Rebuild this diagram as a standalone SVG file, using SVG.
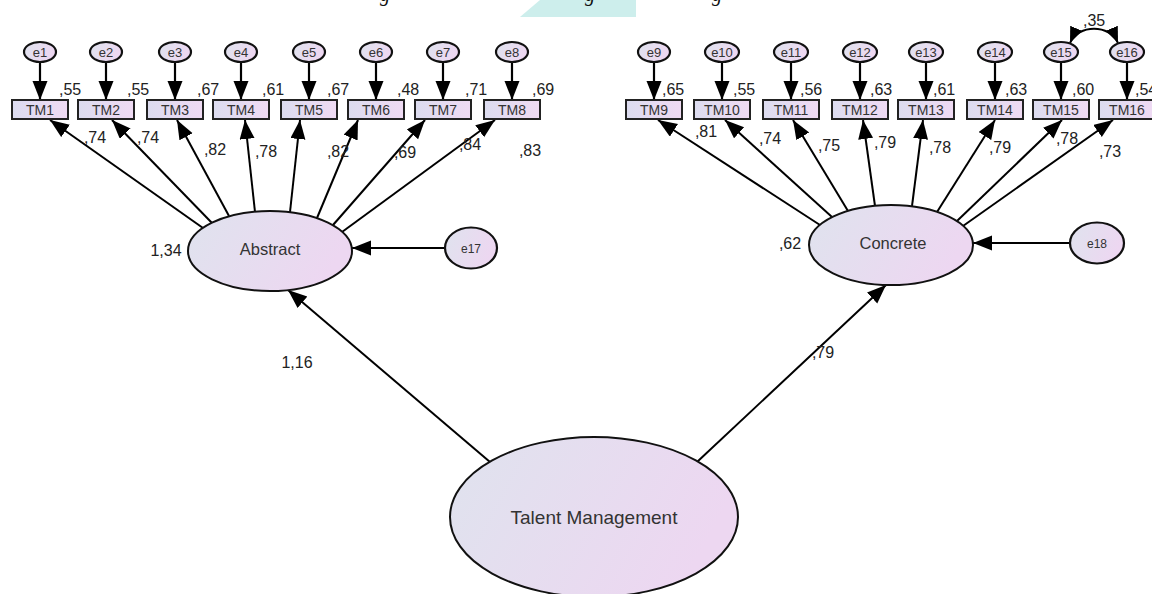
<svg xmlns="http://www.w3.org/2000/svg" width="1152" height="594" viewBox="0 0 1152 594">
  <defs>
    <linearGradient id="fillLatent" x1="0" y1="0" x2="1" y2="0.3">
      <stop offset="0" stop-color="#dfe3ee"/>
      <stop offset="1" stop-color="#edd7f1"/>
    </linearGradient>
    <linearGradient id="fillBox" x1="0" y1="0" x2="1" y2="0">
      <stop offset="0" stop-color="#dcdcef"/>
      <stop offset="1" stop-color="#efdaf3"/>
    </linearGradient>
    <marker id="head" markerUnits="userSpaceOnUse" markerWidth="20" markerHeight="16" refX="19" refY="7.5" orient="auto">
      <path d="M0,0 L19,7.5 L0,15 z" fill="#000"/>
    </marker>
    <marker id="headArc" markerUnits="userSpaceOnUse" markerWidth="18" markerHeight="14" refX="16" refY="6.5" orient="auto-start-reverse">
      <path d="M0,0 L16,6.5 L0,13 z" fill="#000"/>
    </marker>
  </defs>
  <style>
    .lat { fill: url(#fillLatent); stroke: #111; stroke-width: 2; }
    .err { fill: url(#fillLatent); stroke: #111; stroke-width: 2.2; }
    .obs { fill: url(#fillBox); stroke: #222; stroke-width: 2; }
    .lbl { font-family: "Liberation Sans", Arial, sans-serif; fill: #333; text-anchor: middle; }
    .elbl { font-size: 13px; }
    .olbl { font-size: 14px; }
    .num { font-family: "Liberation Sans", Arial, sans-serif; font-size: 16px; fill: #222; }
    .mid { text-anchor: middle; }
    .errpath { fill: none; stroke: #000; stroke-width: 2.2; marker-end: url(#head); }
    .load { fill: none; stroke: #000; stroke-width: 2; marker-end: url(#head); }
  </style>

  <rect width="1152" height="594" fill="#fff"/>

  <!-- page decoration and caption remnant along the top edge -->
  <g id="page-top">
    <polygon points="540,0 636,0 636,17 520,17" fill="#cdeeec"/>
    <g font-family="'Liberation Serif', 'Times New Roman', serif" font-style="italic" font-size="20" fill="#111">
      <text x="380" y="1">g</text>
      <text x="585" y="1">g</text>
      <text x="712" y="1">g</text>
    </g>
  </g>

  <!-- connectors -->
  <g id="connectors">
    <!-- error terms to indicators -->
    <line class="errpath" x1="40" y1="62" x2="40" y2="100"/>
    <line class="errpath" x1="106" y1="62" x2="106" y2="100"/>
    <line class="errpath" x1="175" y1="62" x2="175" y2="100"/>
    <line class="errpath" x1="241" y1="62" x2="241" y2="100"/>
    <line class="errpath" x1="309" y1="62" x2="309" y2="100"/>
    <line class="errpath" x1="376" y1="62" x2="376" y2="100"/>
    <line class="errpath" x1="443" y1="62" x2="443" y2="100"/>
    <line class="errpath" x1="512" y1="62" x2="512" y2="100"/>
    <line class="errpath" x1="654" y1="62" x2="654" y2="100"/>
    <line class="errpath" x1="722" y1="62" x2="722" y2="100"/>
    <line class="errpath" x1="791" y1="62" x2="791" y2="100"/>
    <line class="errpath" x1="860" y1="62" x2="860" y2="100"/>
    <line class="errpath" x1="926" y1="62" x2="926" y2="100"/>
    <line class="errpath" x1="995" y1="62" x2="995" y2="100"/>
    <line class="errpath" x1="1061" y1="62" x2="1061" y2="100"/>
    <line class="errpath" x1="1127" y1="62" x2="1127" y2="100"/>

    <!-- covariance e15 <-> e16 -->
    <path d="M1070,43 C1078,24 1110,24 1118,43" fill="none" stroke="#000" stroke-width="2" marker-start="url(#headArc)" marker-end="url(#headArc)"/>

    <!-- Abstract loadings -->
    <line class="load" x1="203" y1="228" x2="50" y2="120"/>
    <line class="load" x1="212" y1="223" x2="112" y2="120"/>
    <line class="load" x1="229" y1="216" x2="177" y2="120"/>
    <line class="load" x1="255" y1="212" x2="245" y2="120"/>
    <line class="load" x1="290" y1="212" x2="300" y2="120"/>
    <line class="load" x1="317" y1="218" x2="358" y2="120"/>
    <line class="load" x1="333" y1="225" x2="425" y2="120"/>
    <line class="load" x1="342" y1="232" x2="495" y2="120"/>

    <!-- Concrete loadings -->
    <line class="load" x1="820" y1="225" x2="658" y2="120"/>
    <line class="load" x1="832" y1="217" x2="725" y2="120"/>
    <line class="load" x1="848" y1="211" x2="793" y2="120"/>
    <line class="load" x1="875" y1="206" x2="863" y2="120"/>
    <line class="load" x1="912" y1="206" x2="923" y2="120"/>
    <line class="load" x1="937" y1="212" x2="995" y2="120"/>
    <line class="load" x1="957" y1="221" x2="1062" y2="120"/>
    <line class="load" x1="963" y1="226" x2="1113" y2="120"/>

    <!-- disturbances -->
    <line class="load" x1="445" y1="248" x2="352" y2="248"/>
    <line class="load" x1="1070" y1="243" x2="973" y2="243"/>

    <!-- second-order paths -->
    <line class="load" x1="490" y1="462" x2="288" y2="290"/>
    <line class="load" x1="697" y1="462" x2="886" y2="285"/>
  </g>

  <!-- error terms -->
  <g id="e1"><ellipse class="err" cx="40" cy="52" rx="16" ry="10"/><text class="lbl elbl" x="40" y="56.5">e1</text></g>
  <g id="e2"><ellipse class="err" cx="106" cy="52" rx="16" ry="10"/><text class="lbl elbl" x="106" y="56.5">e2</text></g>
  <g id="e3"><ellipse class="err" cx="175" cy="52" rx="16" ry="10"/><text class="lbl elbl" x="175" y="56.5">e3</text></g>
  <g id="e4"><ellipse class="err" cx="241" cy="52" rx="16" ry="10"/><text class="lbl elbl" x="241" y="56.5">e4</text></g>
  <g id="e5"><ellipse class="err" cx="309" cy="52" rx="16" ry="10"/><text class="lbl elbl" x="309" y="56.5">e5</text></g>
  <g id="e6"><ellipse class="err" cx="376" cy="52" rx="16" ry="10"/><text class="lbl elbl" x="376" y="56.5">e6</text></g>
  <g id="e7"><ellipse class="err" cx="443" cy="52" rx="16" ry="10"/><text class="lbl elbl" x="443" y="56.5">e7</text></g>
  <g id="e8"><ellipse class="err" cx="512" cy="52" rx="16" ry="10"/><text class="lbl elbl" x="512" y="56.5">e8</text></g>
  <g id="e9"><ellipse class="err" cx="654" cy="52" rx="16" ry="10"/><text class="lbl elbl" x="654" y="56.5">e9</text></g>
  <g id="e10"><ellipse class="err" cx="722" cy="52" rx="17" ry="10"/><text class="lbl elbl" x="722" y="56.5">e10</text></g>
  <g id="e11"><ellipse class="err" cx="791" cy="52" rx="17" ry="10"/><text class="lbl elbl" x="791" y="56.5">e11</text></g>
  <g id="e12"><ellipse class="err" cx="860" cy="52" rx="17" ry="10"/><text class="lbl elbl" x="860" y="56.5">e12</text></g>
  <g id="e13"><ellipse class="err" cx="926" cy="52" rx="17" ry="10"/><text class="lbl elbl" x="926" y="56.5">e13</text></g>
  <g id="e14"><ellipse class="err" cx="995" cy="52" rx="17" ry="10"/><text class="lbl elbl" x="995" y="56.5">e14</text></g>
  <g id="e15"><ellipse class="err" cx="1061" cy="52" rx="17" ry="10"/><text class="lbl elbl" x="1061" y="56.5">e15</text></g>
  <g id="e16"><ellipse class="err" cx="1127" cy="52" rx="17" ry="10"/><text class="lbl elbl" x="1127" y="56.5">e16</text></g>

  <!-- indicators -->
  <g id="TM1"><rect class="obs" x="12" y="100" width="56" height="19"/><text class="lbl olbl" x="40" y="115">TM1</text></g>
  <g id="TM2"><rect class="obs" x="78" y="100" width="56" height="19"/><text class="lbl olbl" x="106" y="115">TM2</text></g>
  <g id="TM3"><rect class="obs" x="147" y="100" width="56" height="19"/><text class="lbl olbl" x="175" y="115">TM3</text></g>
  <g id="TM4"><rect class="obs" x="213" y="100" width="56" height="19"/><text class="lbl olbl" x="241" y="115">TM4</text></g>
  <g id="TM5"><rect class="obs" x="281" y="100" width="56" height="19"/><text class="lbl olbl" x="309" y="115">TM5</text></g>
  <g id="TM6"><rect class="obs" x="348" y="100" width="56" height="19"/><text class="lbl olbl" x="376" y="115">TM6</text></g>
  <g id="TM7"><rect class="obs" x="415" y="100" width="56" height="19"/><text class="lbl olbl" x="443" y="115">TM7</text></g>
  <g id="TM8"><rect class="obs" x="484" y="100" width="56" height="19"/><text class="lbl olbl" x="512" y="115">TM8</text></g>
  <g id="TM9"><rect class="obs" x="626" y="100" width="56" height="19"/><text class="lbl olbl" x="654" y="115">TM9</text></g>
  <g id="TM10"><rect class="obs" x="694" y="100" width="56" height="19"/><text class="lbl olbl" x="722" y="115">TM10</text></g>
  <g id="TM11"><rect class="obs" x="763" y="100" width="56" height="19"/><text class="lbl olbl" x="791" y="115">TM11</text></g>
  <g id="TM12"><rect class="obs" x="832" y="100" width="56" height="19"/><text class="lbl olbl" x="860" y="115">TM12</text></g>
  <g id="TM13"><rect class="obs" x="898" y="100" width="56" height="19"/><text class="lbl olbl" x="926" y="115">TM13</text></g>
  <g id="TM14"><rect class="obs" x="967" y="100" width="56" height="19"/><text class="lbl olbl" x="995" y="115">TM14</text></g>
  <g id="TM15"><rect class="obs" x="1033" y="100" width="56" height="19"/><text class="lbl olbl" x="1061" y="115">TM15</text></g>
  <g id="TM16"><rect class="obs" x="1099" y="100" width="56" height="19"/><text class="lbl olbl" x="1127" y="115">TM16</text></g>

  <!-- latent variables -->
  <g id="Abstract"><ellipse class="lat" cx="270" cy="251" rx="82" ry="40"/><text class="lbl" x="270" y="255" font-size="16.5">Abstract</text></g>
  <g id="Concrete"><ellipse class="lat" cx="891" cy="245" rx="82" ry="40"/><text class="lbl" x="893" y="249" font-size="16.5">Concrete</text></g>
  <g id="e17"><ellipse class="err" cx="471" cy="248" rx="26" ry="20.5"/><text class="lbl" x="471" y="252.5" font-size="12">e17</text></g>
  <g id="e18"><ellipse class="err" cx="1097" cy="243" rx="27" ry="20.5"/><text class="lbl" x="1097" y="247.5" font-size="12">e18</text></g>
  <g id="TalentManagement"><ellipse class="lat" cx="594" cy="517" rx="144" ry="80"/><text class="lbl" x="594" y="524" font-size="19">Talent Management</text></g>

  <!-- estimates -->
  <g id="estimates" class="num">
    <text x="59" y="95">,55</text>
    <text x="127" y="95">,55</text>
    <text x="197" y="95">,67</text>
    <text x="262" y="95">,61</text>
    <text x="327" y="95">,67</text>
    <text x="397" y="95">,48</text>
    <text x="465" y="95">,71</text>
    <text x="532" y="95">,69</text>
    <text x="662" y="95">,65</text>
    <text x="733" y="95">,55</text>
    <text x="800" y="95">,56</text>
    <text x="870" y="95">,63</text>
    <text x="933" y="95">,61</text>
    <text x="1005" y="95">,63</text>
    <text x="1072" y="95">,60</text>
    <text x="1135" y="95">,54</text>
    <text x="1083" y="26">,35</text>

    <text class="mid" x="95" y="143">,74</text>
    <text class="mid" x="148" y="143">,74</text>
    <text class="mid" x="215" y="155">,82</text>
    <text class="mid" x="266" y="157">,78</text>
    <text class="mid" x="338" y="157">,82</text>
    <text class="mid" x="405" y="158">,69</text>
    <text class="mid" x="470" y="150">,84</text>
    <text class="mid" x="530" y="156">,83</text>

    <text class="mid" x="706" y="137">,81</text>
    <text class="mid" x="770" y="144">,74</text>
    <text class="mid" x="829" y="151">,75</text>
    <text class="mid" x="885" y="148">,79</text>
    <text class="mid" x="940" y="153">,78</text>
    <text class="mid" x="1000" y="153">,79</text>
    <text class="mid" x="1067" y="144">,78</text>
    <text class="mid" x="1110" y="157">,73</text>

    <text class="mid" x="166" y="256">1,34</text>
    <text class="mid" x="790" y="249">,62</text>
    <text class="mid" x="297" y="368">1,16</text>
    <text class="mid" x="823" y="358">,79</text>
  </g>
</svg>
